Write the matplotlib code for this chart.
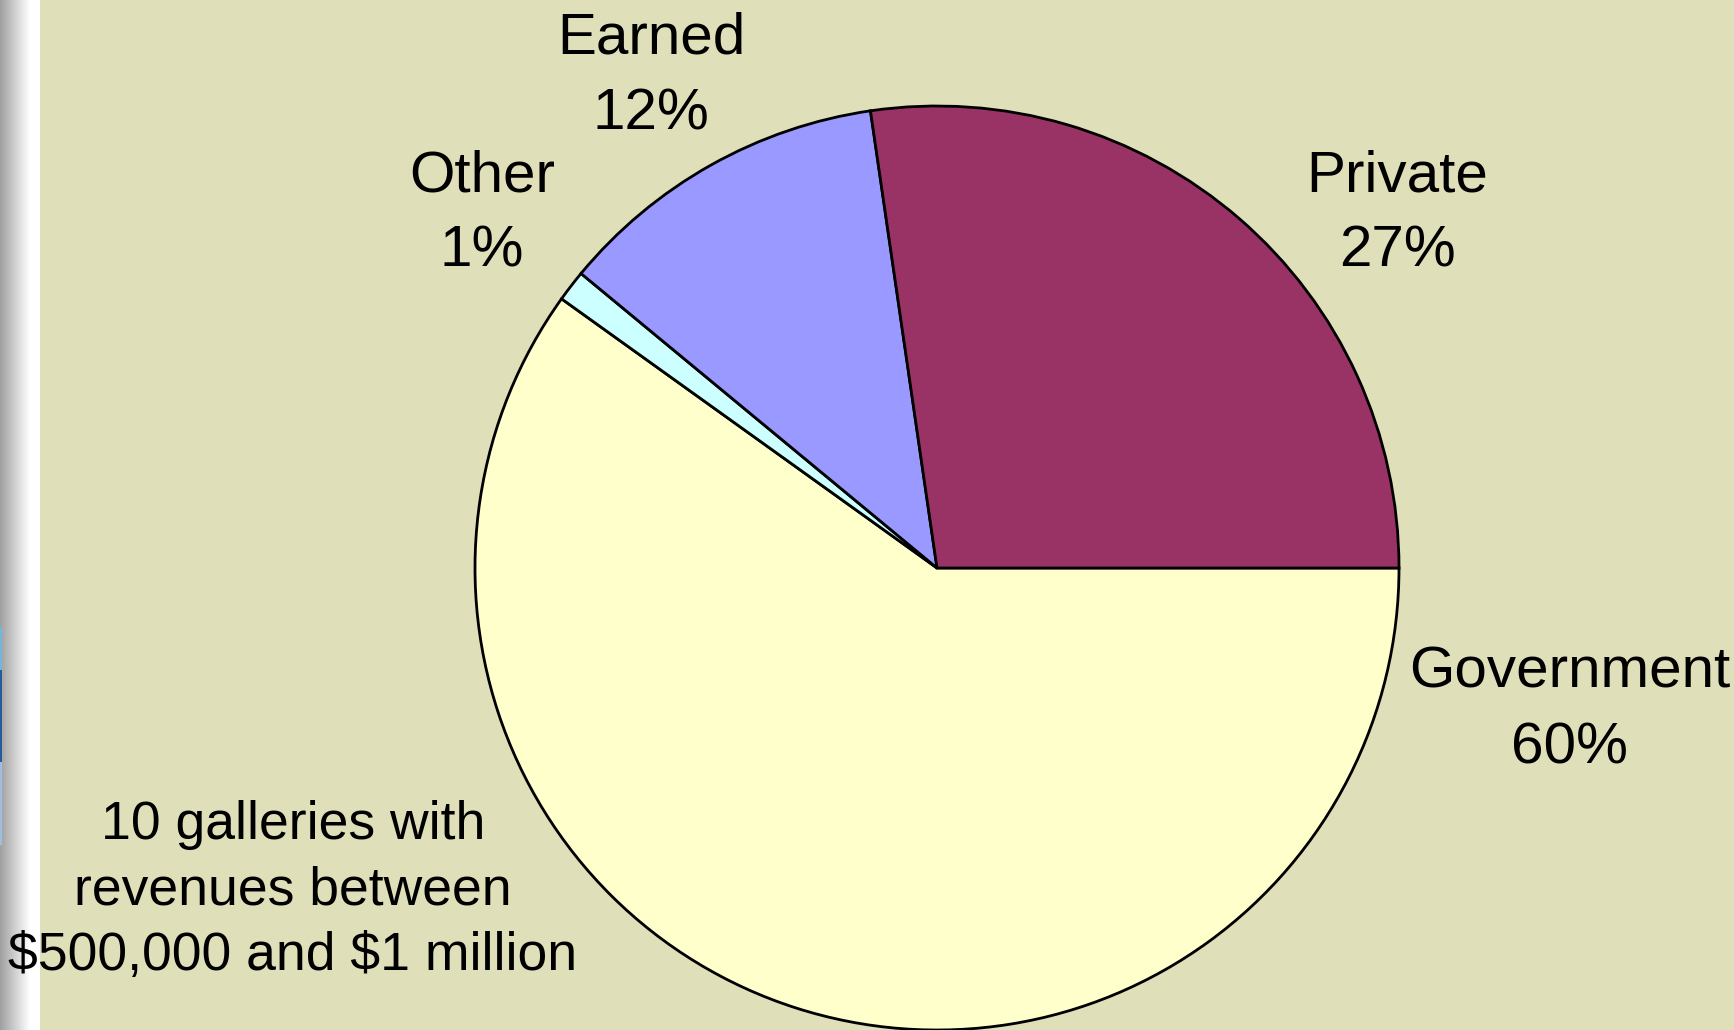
import numpy as np
import matplotlib
matplotlib.use("Agg")
import matplotlib.pyplot as plt

# ---- data ----
categories = ["Government", "Other", "Earned", "Private"]
values = [59.9, 1.1, 11.7, 27.3]
colors = ["#FFFFCC", "#CCFFFF", "#9999FF", "#993366"]
note = "10 galleries with\nrevenues between\n\\$500,000 and \\$1 million"

W, H = 1734, 1030
BG = "#DFDFB9"
plt.rcParams['font.family'] = ['Liberation Sans', 'DejaVu Sans']

fig = plt.figure(figsize=(W / 100, H / 100), dpi=100, facecolor=BG)

# left gray strip
sax = fig.add_axes([0, 0, 40 / W, 1])
xs = np.linspace(0, 1, 40)
g = np.clip(0.63 + 0.37 * (xs / 0.75), 0, 1)
img = np.tile(g[None, :, None], (H, 1, 3))
# thin blue mark at the far left edge
img[627:670, 0:2] = [0.45, 0.72, 0.85]
img[670:762, 0:2] = [0.15, 0.35, 0.62]
img[762:845, 0:2] = [0.62, 0.75, 0.88]
sax.imshow(img, aspect='auto', extent=[0, 40, H, 0], interpolation='nearest')
sax.set_axis_off()

# pie
cx, cy, r = 937, 568, 462
ax = fig.add_axes([(cx - r) / W, (H - cy - r) / H, 2 * r / W, 2 * r / H])
ax.set_facecolor("none")
ax.pie(values, colors=colors, startangle=0, counterclock=False, radius=1,
       wedgeprops=dict(edgecolor="black", linewidth=2.0))
ax.set_xlim(-1, 1)
ax.set_ylim(-1, 1)
ax.set_axis_off()

# labels (pixel positions: center x, top y)
label_pos = {"Government": (1570, 646), "Other": (482, 150),
             "Earned": (651, 12), "Private": (1397, 150)}
for cat, val in zip(categories, values):
    px, py = label_pos[cat]
    fig.text(px / W, 1 - py / H, f"{cat}\n{round(val)}%", ha="center", va="top",
             fontsize=42, linespacing=1.5, color="black")

fig.text(293 / W, 1 - 800 / H, note, ha="center", va="top",
         fontsize=38.5, linespacing=1.4, color="black")

fig.savefig("out.png", dpi=100, facecolor=BG)
